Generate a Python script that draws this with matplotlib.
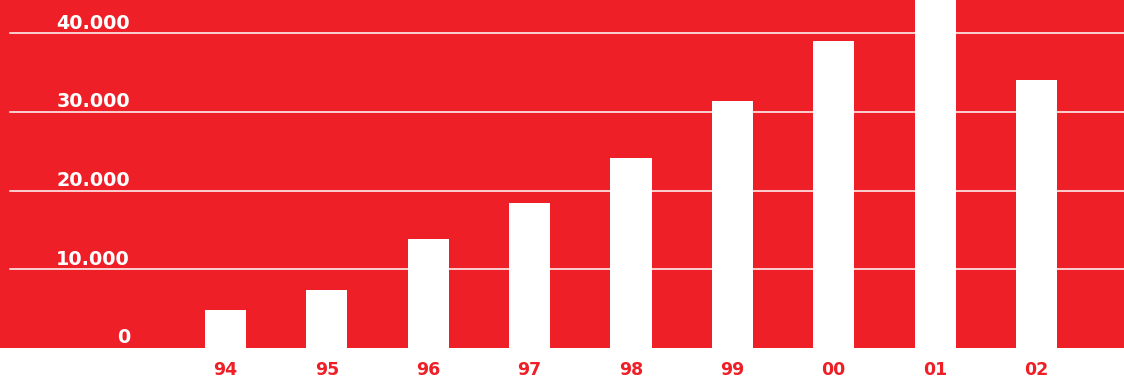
import matplotlib
matplotlib.use("Agg")
import matplotlib.pyplot as plt
import matplotlib.transforms as mtransforms

# Yearly values (thousands separators shown with a dot)
years = ["94", "95", "96", "97", "98", "99", "00", "01", "02"]
values = [4800, 7350, 13850, 18400, 24150, 31400, 39050, 46500, 34100]
y_ticks = [0, 10000, 20000, 30000, 40000]
y_tick_labels = ["0", "10.000", "20.000", "30.000", "40.000"]

RED = "#EE1F26"
W, H = 1124, 381
fig = plt.figure(figsize=(W / 100, H / 100), dpi=100)
fig.patch.set_facecolor("white")

ax = fig.add_axes([0, 33.3 / H, 1, 347.7 / H])
ax.set_facecolor(RED)
for s in ax.spines.values():
    s.set_visible(False)

x = list(range(len(years)))
ax.set_xlim(-2.224, 8.863)
ax.set_ylim(0, 44240)

# White horizontal rules, starting a little in from the left edge
for t in y_ticks[1:]:
    ax.axhline(t, xmin=10 / W, xmax=1, color="white", lw=1.1, zorder=1)

ax.bar(x, values, width=0.405, color="white", zorder=2)

ax.set_xticks([])
ax.set_yticks([])

# Value labels sitting just above each rule, right-aligned
lab_tr = mtransforms.blended_transform_factory(ax.transAxes, ax.transData)
offset = mtransforms.ScaledTranslation(0, 4.5 / 100, fig.dpi_scale_trans)
for t, lab in zip(y_ticks, y_tick_labels):
    ax.text(130 / W, t, lab, transform=lab_tr + offset, ha="right",
            va="baseline", color="white", fontsize=13.8, fontweight="bold",
            family="DejaVu Sans", zorder=3)

# Year labels below the red panel
yr_tr = mtransforms.blended_transform_factory(ax.transData, fig.transFigure)
for xi, yr in zip(x, years):
    ax.text(xi, 1 - 370 / H, yr, transform=yr_tr, ha="center", va="center",
            color=RED, fontsize=12.5, fontweight="bold", family="DejaVu Sans",
            clip_on=False)

fig.savefig("out.png", dpi=100, facecolor="white")
